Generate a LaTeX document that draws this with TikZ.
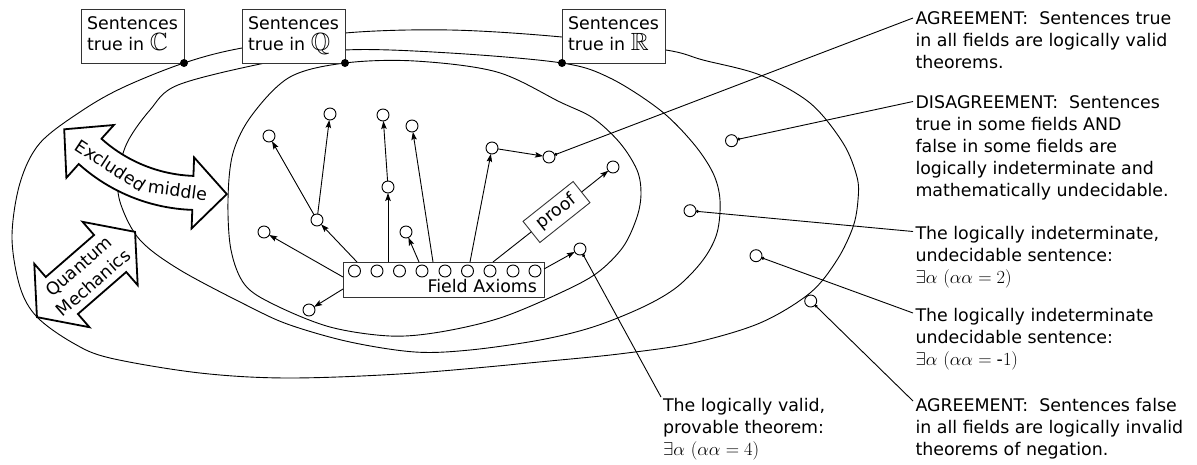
\RequirePackage{fix-cm}
\documentclass[tikz,border=0pt]{standalone}
\usepackage{amssymb}
\usepackage[no-math]{fontspec}
\setmainfont{DejaVu Sans}
\usetikzlibrary{arrows.meta}
\newcommand\mytf{\fontsize{17.4}{22}\selectfont}
\newcommand\mymath[1]{{\fontsize{18.5}{22}\selectfont$#1$}}
\newcommand\mybb[1]{\smash{\fontsize{24.88}{21}\selectfont$\mathbb{#1}$}}
\begin{document}
\begin{tikzpicture}[x=1pt,y=-1pt,
  every node/.style={inner sep=0pt, outer sep=0pt},
  txt/.style={font=\mytf, anchor=base west},
  curve/.style={line width=0.9pt},
  lbox/.style={draw=black!80, line width=0.9pt, fill=white, minimum width=103pt, minimum height=54pt, font=\fontsize{17.4}{21}\selectfont},
  dotn/.style={circle, fill=black, minimum size=8pt},
  sent/.style={circle, draw, fill=white, line width=0.9pt, minimum size=12pt},
  arr/.style={line width=0.9pt, -{Stealth[length=8pt,width=5.5pt,inset=1.5pt]}},
  lead/.style={line width=0.9pt, {Circle[length=3pt]}-},
  fat/.style={draw, line width=1.8pt, fill=white, line join=miter},
]
\useasboundingbox (0,0) rectangle (1197,464);

% --- the three closed curves
\draw[curve] plot[smooth cycle, tension=0.55] coordinates {(184,63) (242,48) (345,33) (450,30) (562,37) (666,50) (703,60) (760,75) (810,103) (843,143) (857,177) (858,200) (853,227) (837,260) (810,293) (760,323) (693,343) (627,353) (560,360) (415,373) (290,378) (200,373) (110,358) (73,343) (37,317) (20,287) (12,237) (20,183) (40,143) (83,110) (124,87)};
\draw[curve] plot[smooth cycle, tension=0.55] coordinates {(562,63) (610,78) (660,110) (693,143) (713,173) (720,200) (717,233) (703,260) (677,287) (643,307) (593,327) (540,340) (470,350) (415,352) (350,342) (290,325) (250,307) (180,270) (140,240) (121,205) (118,177) (127,143) (150,110) (178,85) (265,63) (345,50) (450,53)};
\draw[curve] plot[smooth cycle, tension=0.55] coordinates {(345,63) (415,61) (497,72) (560,102) (593,118) (620,143) (637,170) (641,193) (637,217) (623,247) (597,273) (560,293) (500,318) (440,332) (390,336) (330,327) (275,305) (245,285) (231,250) (228,200) (233,153) (252,115) (290,77)};

% --- labelled boxes and dots
\node[lbox, anchor=south east] (bC) at (184,63) {\begin{tabular}{@{}l@{}}Sentences\\true in \mybb{C}\end{tabular}};
\node[lbox, anchor=south east] (bQ) at (345,63) {\begin{tabular}{@{}l@{}}Sentences\\true in \mybb{Q}\end{tabular}};
\node[lbox, anchor=south west] (bR) at (562,63) {\begin{tabular}{@{}l@{}}Sentences\\true in \mybb{R}\end{tabular}};
\node[dotn] (dC) at (bC.south east) {};
\node[dotn] (dQ) at (bQ.south east) {};
\node[dotn] (dR) at (bR.south west) {};

% --- field axioms
\node[draw=black!80, line width=0.9pt, minimum width=201pt, minimum height=35pt, anchor=north west] (fa) at (343,262) {};
\foreach \i/\x in {1/354.5,2/377,3/399.5,4/422,5/445,6/467.5,7/490,8/513,9/535}
  \node[sent] (ax\i) at (\x,271) {};
\node[txt, anchor=base east] (falab) at (537,292) {Field Axioms};

% --- sentences (network)
\node[sent] (n1) at (269,136) {};
\node[sent] (n2) at (330,114) {};
\node[sent] (n3) at (383,115) {};
\node[sent] (n4) at (412,126) {};
\node[sent] (n5) at (492,148) {};
\node[sent] (n6) at (549,157) {};
\node[sent] (n7) at (613,167) {};
\node[sent] (n8) at (388,187) {};
\node[sent] (n9) at (317,220) {};
\node[sent] (n10) at (264,232) {};
\node[sent] (n11) at (406,232) {};
\node[sent] (n12) at (580,249) {};
\node[sent] (n13) at (309,310) {};

\coordinate (f1) at (357,262);
\coordinate (f2) at (343,277);
\coordinate (f3) at (343,289);
\coordinate (f4) at (388,262);
\coordinate (f5) at (419,262);
\coordinate (f6) at (433,262);
\coordinate (f7) at (470,262);
\coordinate (f8) at (493,262);
\coordinate (f9) at (544,269);

\draw[arr] (f1) -- (n9);
\draw[arr] (f2) -- (n10);
\draw[arr] (f3) -- (n13);
\draw[arr] (f4) -- (n8);
\draw[arr] (f5) -- (n11);
\draw[arr] (f6) -- (n4);
\draw[arr] (f7) -- (n5);
\draw[arr] (f9) -- (n12);
\draw[arr] (n9) -- (n1);
\draw[arr] (n9) -- (n2);
\draw[arr] (n8) -- (n3);
\draw[arr] (n5) -- (n6);
\node[draw=black!80, line width=0.9pt, fill=white, rotate=38.5, minimum width=64pt, minimum height=27pt, font=\mytf] (proof) at (556.5,212) {proof};
\draw[curve] (f8) -- (proof);
\draw[arr] (proof) -- (n7);

% --- outer sentences
\node[sent] (r1) at (731.5,140.7) {};
\node[sent] (r2) at (690,210.7) {};
\node[sent] (r3) at (756,255.7) {};
\node[sent] (r4) at (810.7,301) {};

% --- texts
\node[txt] (t1) at (915.5,24) {\begin{tabular}[t]{@{}l@{}}AGREEMENT:~ Sentences true\\in all fields are logically valid\\theorems.\end{tabular}};
\node[txt] (t2) at (915.5,108) {\begin{tabular}[t]{@{}l@{}}DISAGREEMENT:~ Sentences\\true in some fields AND\\false in some fields are\\logically indeterminate and\\mathematically undecidable.\end{tabular}};
\node[txt] (t3) at (915.5,239) {\begin{tabular}[t]{@{}l@{}}The logically indeterminate,\\undecidable sentence:\\\mymath{\exists\alpha\ (\alpha\alpha = 2)}\end{tabular}};
\node[txt] (t4) at (915.5,321) {\begin{tabular}[t]{@{}l@{}}The logically indeterminate\\undecidable sentence:\\\mymath{\exists\alpha\ (\alpha\alpha = \hbox{\mytf -}1)}\end{tabular}};
\node[txt] (t5) at (915.5,411) {\begin{tabular}[t]{@{}l@{}}AGREEMENT:~ Sentences false\\in all fields are logically invalid\\theorems of negation.\end{tabular}};
\node[txt] (t6) at (663,411) {\begin{tabular}[t]{@{}l@{}}The logically valid,\\provable theorem:\\\mymath{\exists\alpha\ (\alpha\alpha = 4)}\end{tabular}};

% --- leaders
\coordinate (e1) at (913,18);
\coordinate (e2) at (913,101.5);
\coordinate (e3) at (913,231.5);
\coordinate (e4) at (913,313);
\coordinate (e5) at (913,401);
\coordinate (e6) at (661,397);
\draw[lead] (n6) -- (e1);
\draw[lead] (r1) -- (e2);
\draw[lead] (r2) -- (e3);
\draw[lead] (r3) -- (e4);
\draw[lead] (r4) -- (e5);
\draw[lead] (n12) -- (e6);

% --- Excluded middle (curved double arrow)
\draw[fat] (101.5,138.7) -- plot[domain=132:92, samples=25] ({198.5+145*cos(\x)},{31+145*sin(\x)}) -- (194.1,157.4) -- (226.8,194.1) -- (191.6,228.4) -- (192.3,209.9) -- plot[domain=92:132, samples=25] ({198.5+179*cos(\x)},{31+179*sin(\x)}) -- (66.4,177.8) -- (64.2,129.3) -- (113.9,125) -- cycle;
\node[font=\mytf, anchor=base, rotate=-33.2] (em1) at (107.1,170.7) {Excluded};
\node[font=\mytf, anchor=base, rotate=-7.5] (em2) at (176.8,196.6) {middle};

% --- Quantum Mechanics (double arrow)
\begin{scope}[shift={(86,274.5)}, rotate=41]
\draw[fat] (65,0) -- (32,42) -- (32,24.5) -- (-32,24.5) -- (-32,42) -- (-65,0) -- (-32,-42) -- (-32,-24.5) -- (32,-24.5) -- (32,-42) -- cycle;
\end{scope}
\node[font=\mytf, align=center, rotate=41] (qm) at (86,274.5) {Quantum\\Mechanics};
\end{tikzpicture}
\end{document}
